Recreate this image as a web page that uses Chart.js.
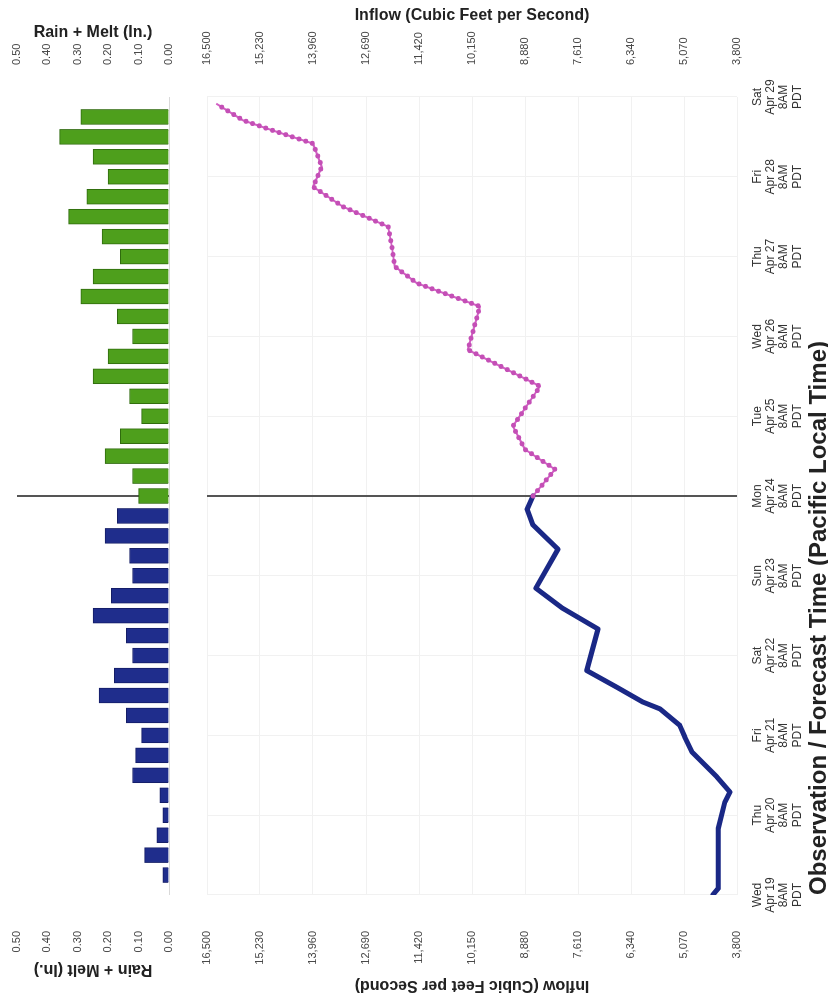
<!DOCTYPE html>
<html><head><meta charset="utf-8">
<script src="https://cdn.jsdelivr.net/npm/chart.js@4.4.1/dist/chart.umd.min.js"></script>
<style>
html,body{margin:0;padding:0;background:#fff;overflow:hidden;width:828px;height:995px;}
#wrap{position:absolute;left:0;top:0;width:995px;height:828px;transform-origin:0 0;transform:translate(0px,995px) rotate(-90deg);background:#fff;}
canvas{position:absolute;left:0;}
</style></head>
<body>
<div id="wrap">
<canvas id="rain" width="995" height="190" style="top:0"></canvas>
<canvas id="flow" width="995" height="638" style="top:190px"></canvas>
</div>
<script>
// ---- time axis (hours after Wed Apr 19 8AM PDT) ----
const xTickHours = [0,24,48,72,96,120,144,168,192,216,240];
const dayNames = ['Wed','Thu','Fri','Sat','Sun','Mon','Tue','Wed','Thu','Fri','Sat'];
const dayDates = ['Apr 19','Apr 20','Apr 21','Apr 22','Apr 23','Apr 24','Apr 25','Apr 26','Apr 27','Apr 28','Apr 29'];
const timeLabel = '8AM';
const zoneLabel = 'PDT';
const dividerHour = 120;

// ---- Rain + Melt (in.) 6-hourly ----
const rainObsHours = [6,12,18,24,30,36,42,48,54,60,66,72,78,84,90,96,102,108,114];
const rainObs      = [0.02,0.08,0.04,0.02,0.03,0.12,0.11,0.09,0.14,0.23,0.18,0.12,0.14,0.25,0.19,0.12,0.13,0.21,0.17];
const rainFcstHours = [120,126,132,138,144,150,156,162,168,174,180,186,192,198,204,210,216,222,228,234];
const rainFcst      = [0.10,0.12,0.21,0.16,0.09,0.13,0.25,0.20,0.12,0.17,0.29,0.25,0.16,0.22,0.33,0.27,0.20,0.25,0.36,0.29];
const rainTicks = [0,0.1,0.2,0.3,0.4,0.5];

// ---- Inflow (cfs) ----
const flowObsHours = [0,2,20,28,31,35.5,43,47.5,51,56,58,62.5,67.5,80,86.3,92.3,104,111.3,116,120];
const flowObs      = [4380,4250,4250,4090,3970,4280,4880,5050,5170,5650,6050,6680,7400,7130,7990,8620,8090,8690,8830,8690];
const flowFcstHours = [120,128,134,141,153,164,177,184,189,195,201,207,213,219,226,230,233,238];
const flowFcst      = [8690,8160,8880,9170,8520,10250,9960,11470,12000,12070,12160,13240,13960,13750,13960,14940,15640,16280];
const flowTicks = [3800,5070,6340,7610,8880,10150,11420,12690,13960,15230,16500];

Chart.defaults.font.family = '"Liberation Sans", Arial, Helvetica, sans-serif';
Chart.defaults.color = '#333';
Chart.defaults.animation = false;

const pts = (xs, ys) => xs.map((x, i) => ({x: x, y: ys[i]}));
const setTicks = arr => (s => { s.ticks = arr.map(v => ({value: v})); });
const fixWidth = w => (s => { s.width = w; s.paddingTop = 0; s.paddingBottom = 0; });

const rainY = (pos, titlePad, width) => ({
  type: 'linear', position: pos, min: 0, max: 0.5,
  afterBuildTicks: setTicks(rainTicks),
  ticks: {callback: v => Number(v).toFixed(2), padding: pos === 'left' ? 36 : 32, color: '#444', font: {size: 11}},
  grid: {display: pos === 'left', drawTicks: false, color: c => (c.tick && c.tick.value === 0) ? '#d9d9d9' : 'rgba(0,0,0,0)'},
  border: {display: false},
  title: {display: true, text: 'Rain + Melt (In.)', color: '#222', font: {size: 16, weight: 'bold'}, padding: {top: titlePad, bottom: 0}},
  afterFit: fixWidth(width)
});

new Chart(document.getElementById('rain'), {
  type: 'bar',
  data: {datasets: [
    {type: 'line', data: [{x: dividerHour, y: 0}, {x: dividerHour, y: 0.5}], borderColor: '#555', borderWidth: 2, pointRadius: 0, order: 10},
    {data: pts(rainObsHours, rainObs), backgroundColor: '#1f2d8c', borderColor: '#141d66', borderWidth: 1, barThickness: 15, grouped: false, order: 1},
    {data: pts(rainFcstHours, rainFcst), backgroundColor: '#4e9f1c', borderColor: '#2f6b0d', borderWidth: 1, barThickness: 15, grouped: false, order: 1}
  ]},
  options: {
    responsive: false,
    layout: {padding: {top: 17, bottom: 21, left: 0, right: 0}},
    plugins: {legend: {display: false}, tooltip: {enabled: false}},
    scales: {
      x: {type: 'linear', min: 0, max: 240, offset: false, display: false, grid: {offset: false}},
      y: rainY('left', 16, 100),
      y2: rainY('right', 23, 97)
    }
  }
});

const flowY = (pos, titlePad, width) => ({
  type: 'linear', position: pos, min: 3800, max: 16500,
  afterBuildTicks: setTicks(flowTicks),
  ticks: {callback: v => Number(v).toLocaleString('en-US'), padding: pos === 'left' ? 36 : 32, color: '#444', font: {size: 11}},
  grid: {display: pos === 'left', drawTicks: false, color: '#f1f1f1'},
  border: {display: false},
  title: {display: true, text: 'Inflow (Cubic Feet per Second)', color: '#222', font: {size: 16, weight: 'bold'}, padding: {top: titlePad, bottom: 0}},
  afterFit: fixWidth(width)
});

new Chart(document.getElementById('flow'), {
  type: 'line',
  data: {datasets: [
    {data: [{x: dividerHour, y: 3800}, {x: dividerHour, y: 16500}], borderColor: '#555', borderWidth: 2, pointRadius: 0, order: 10},
    {data: pts(flowObsHours, flowObs), borderColor: '#1a2886', borderWidth: 5, pointRadius: 0, borderJoinStyle: 'round', borderCapStyle: 'round', order: 2},
    {data: pts(flowFcstHours, flowFcst), borderColor: '#d25fc4', borderWidth: 2, pointRadius: 0, borderJoinStyle: 'round', order: 3},
    {data: pts(flowFcstHours, flowFcst), borderColor: '#c44fb6', borderWidth: 5, borderDash: [0, 7], borderCapStyle: 'round', pointRadius: 0, order: 1}
  ]},
  options: {
    responsive: false,
    layout: {padding: {top: 17, bottom: 0, left: 0, right: 0}},
    plugins: {legend: {display: false}, tooltip: {enabled: false}},
    scales: {
      x: {
        type: 'linear', min: 0, max: 240, offset: false,
        afterBuildTicks: setTicks(xTickHours),
        ticks: {autoSkip: false, maxRotation: 0, minRotation: 0, padding: 14, color: '#333', font: {size: 12, lineHeight: 1.1},
          callback: (v, i) => [dayNames[i], dayDates[i], timeLabel, zoneLabel]},
        grid: {drawTicks: false, color: '#f1f1f1'},
        border: {display: false},
        title: {display: true, text: 'Observation / Forecast Time (Pacific Local Time)', align: 'start', color: '#222',
          font: {size: 24, weight: 'bold'}, padding: {top: 0, bottom: -6}},
        afterFit: s => { s.height = 91; }
      },
      y: flowY('left', 0, 100),
      y2: flowY('right', 6, 97)
    }
  }
});
</script>
</body></html>
